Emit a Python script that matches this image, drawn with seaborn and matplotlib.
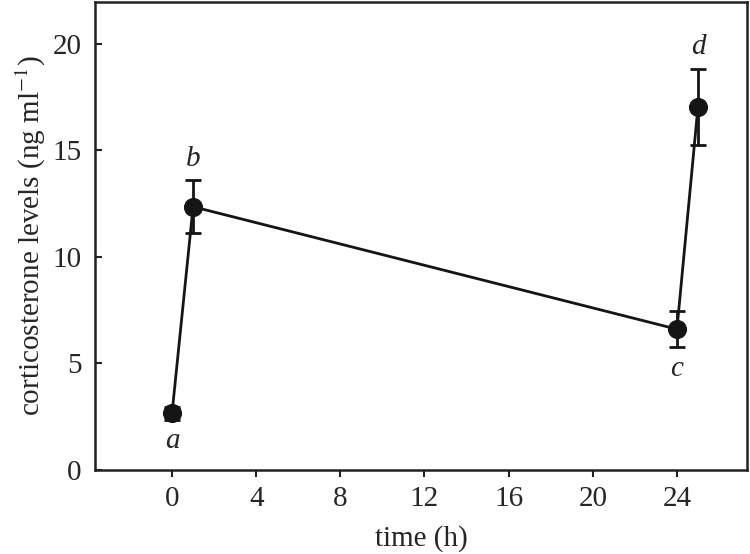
import seaborn as sns
import matplotlib.pyplot as plt
import pandas as pd

# values
time_h = [0, 1, 24, 25]
cort = [2.65, 12.35, 6.6, 17.05]
sem = [0.3, 1.25, 0.85, 1.78]
letters = ['a', 'b', 'c', 'd']
letter_pos = ['below', 'above', 'below', 'above']

df = pd.DataFrame({'time': time_h, 'cort': cort, 'sem': sem})

sns.set_style("ticks")
plt.rcParams['font.family'] = ['Liberation Serif', 'DejaVu Serif']
plt.rcParams['mathtext.fontset'] = 'stix'

fig, ax = plt.subplots(figsize=(7.5, 5.54), dpi=100)
fig.subplots_adjust(left=0.127, right=0.996, bottom=0.152, top=0.996)

ax.errorbar(df['time'], df['cort'], yerr=df['sem'], fmt='none',
            ecolor='#151515', elinewidth=2, capsize=6, capthick=2, zorder=2)
sns.lineplot(data=df, x='time', y='cort', ax=ax, color='#151515',
             linewidth=2, marker='o', markersize=13, markeredgecolor='#151515',
             zorder=3)

for x, y, e, lab, pos in zip(time_h, cort, sem, letters, letter_pos):
    if pos == 'above':
        ax.text(x, y + e + 0.4, lab, ha='center', va='bottom',
                fontsize=21, style='italic')
    else:
        ax.text(x, y - e - 0.4, lab, ha='center', va='top',
                fontsize=21, style='italic')

ax.set_xlim(-3.65, 27.33)
ax.set_ylim(0, 21.95)
ax.set_xticks([0, 4, 8, 12, 16, 20, 24])
ax.set_yticks([0, 5, 10, 15, 20])
ax.set_xlabel('time (h)', fontsize=21, labelpad=9)
ax.set_ylabel(r'corticosterone levels (ng ml$^{-1}$)', fontsize=21, labelpad=3)
ax.tick_params(axis='both', labelsize=21, width=1.5, length=5, color='#222222')
ax.tick_params(axis='y', direction='in', pad=10)
ax.tick_params(axis='x', direction='out', pad=7)
for s in ax.spines.values():
    s.set_linewidth(1.8)
    s.set_color('#222222')

fig.savefig('out.png', dpi=100)
